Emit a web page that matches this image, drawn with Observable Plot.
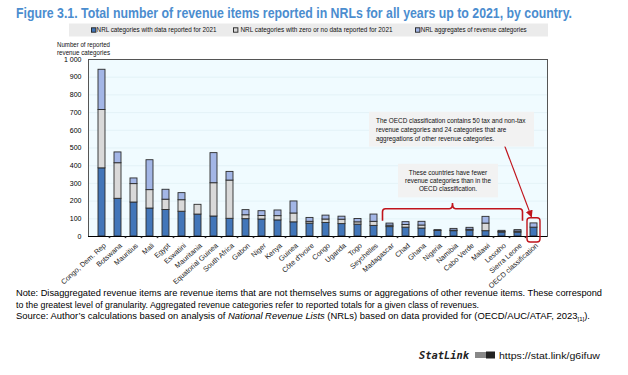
<!DOCTYPE html>
<html>
<head>
<meta charset="utf-8">
<script src="https://cdn.jsdelivr.net/npm/d3@7"></script>
<script src="https://cdn.jsdelivr.net/npm/@observablehq/plot@0.6"></script>
<style>
  html, body { margin: 0; padding: 0; background: #fff; }
  #page { position: relative; width: 628px; height: 375px; overflow: hidden; font-family: "Liberation Sans", Arial, sans-serif; }
  #chart { position: absolute; left: 0; top: 40px; }
  #overlay { position: absolute; left: 0; top: 0; pointer-events: none; }
  #title { position: absolute; left: 16px; top: 4px; white-space: nowrap; font-weight: bold; font-size: 15px; line-height: 18px; color: #4b8dcf; transform-origin: 0 0; }
</style>
</head>
<body>
<div id="page">
  <div id="chart"></div>
  <svg id="overlay" width="628" height="375"></svg>
  <div id="title"></div>
</div>
<script>
// ---------- DATA ----------
const countries = ["Congo, Dem. Rep", "Botswana", "Mauritius", "Mali", "Egypt", "Eswatini", "Mauritania",
  "Equatorial Guinea", "South Africa", "Gabon", "Niger", "Kenya", "Guinea", "Côte d'Ivoire", "Congo",
  "Uganda", "Togo", "Seychelles", "Madagascar", "Chad", "Ghana", "Nigeria", "Namibia", "Cabo Verde",
  "Malawi", "Lesotho", "Sierra Leone", "OECD classification"];
const withData   = [385, 213, 192, 158, 150, 140, 124, 113, 100, 98, 96, 91, 80, 73, 76, 70, 67, 60, 53, 50, 45, 31, 30, 33, 30, 22, 22, 50];
const zeroNoData = [330, 201, 104, 104, 58, 65, 55, 188, 216, 22, 20, 24, 50, 10, 20, 25, 13, 23, 8, 15, 17, 0, 3, 5, 43, 3, 6, 0];
const aggregates = [227, 61, 32, 169, 56, 40, 0, 170, 49, 29, 27, 32, 68, 22, 22, 17, 19, 41, 12, 16, 21, 5, 10, 11, 38, 7, 8, 24];
const seriesNames = ["NRL categories with data reported for 2021",
  "NRL categories with zero or no data reported for 2021",
  "NRL aggregates of revenue categories"];
const seriesColors = ["#4276b9", "#d9d9d9", "#a3b6e6"];
const yTicks = [0, 100, 200, 300, 400, 500, 600, 700, 800, 900, 1000];

const titleText = "Figure 3.1. Total number of revenue items reported in NRLs for all years up to 2021, by country.";
const yLabel = ["Number of reported", "revenue categories"];
const note1 = ["The OECD classification contains 50 tax and non-tax", "revenue categories and 24 categories that are", "aggregations of other revenue categories."];
const note2 = ["These countries have fewer", "revenue categories than in the", "OECD classification."];

// ---------- TABLE ----------
const rows = [];
countries.forEach((c, i) => {
  [withData, zeroNoData, aggregates].forEach((arr, k) => {
    rows.push({country: c, series: seriesNames[k], value: arr[i]});
  });
});

const fmt = d => d >= 1000 ? d3.format(",")(d).replace(",", " ") : String(d);

const chart = Plot.plot({
  width: 628,
  height: 250,
  marginTop: 19,
  marginBottom: 54,
  marginLeft: 88,
  marginRight: 81,
  style: {background: "transparent", fontFamily: "'Liberation Sans', Arial, sans-serif", fontSize: "7px", color: "#000"},
  x: {domain: countries, padding: 0.55, label: null},
  y: {domain: [0, 1000], label: null},
  color: {domain: seriesNames, range: seriesColors},
  marks: [
    Plot.frame({fill: "#f0fbff", stroke: "none"}),
    Plot.gridY(yTicks, {stroke: "#dcecf2", strokeOpacity: 1, strokeWidth: 0.6}),
    Plot.barY(rows, Plot.stackY({x: "country", y: "value", fill: "series", stroke: "#2b2b2b", strokeWidth: 0.9})),
    Plot.frame({stroke: "#555", strokeWidth: 1}),
    Plot.ruleY([0], {stroke: "#000", strokeWidth: 1.2}),
    Plot.axisY(yTicks, {tickSize: 0, tickPadding: 7, tickFormat: fmt, fontSize: 7}),
    Plot.axisX({tickSize: 0, tickRotate: -42, tickPadding: 8, dx: 3, fontSize: 7.2, fill: "#222"})
  ]
});
document.getElementById("chart").appendChild(chart);

// ---------- ANNOTATIONS inside the chart ----------
const xs = chart.scale("x"), ys = chart.scale("y");
const bw = xs.bandwidth;
const step = xs.apply(countries[1]) - xs.apply(countries[0]);
const gap = step - bw;
const g = d3.select(chart).append("g");
// small tick marks at band boundaries
for (let i = 1; i < countries.length; i++) {
  const bx = xs.apply(countries[i]) - gap / 2;
  g.append("rect").attr("x", bx - 0.8).attr("y", ys.apply(0) + 0.5).attr("width", 1.6).attr("height", 1.6).attr("fill", "#333");
}
const red = "#c0141c";
// bracket over the countries with fewer categories
const bL = xs.apply("Madagascar") - gap / 2 + 1, bR = xs.apply("Sierra Leone") + bw + gap / 2 - 3;
const bY = ys.apply(154), bEnd = ys.apply(86), bC = (bL + bR) / 2, bTop = ys.apply(186);
g.append("path")
  .attr("d", `M${bL},${bEnd} V${bY + 3} Q${bL},${bY} ${bL + 3},${bY} H${bC - 3} Q${bC},${bY} ${bC},${bTop} Q${bC},${bY} ${bC + 3},${bY} H${bR - 3} Q${bR},${bY} ${bR},${bY + 3} V${bEnd}`)
  .attr("fill", "none").attr("stroke", red).attr("stroke-width", 1.6);
// highlight box around OECD bar
const oX = xs.apply("OECD classification");
g.append("rect").attr("x", oX - gap / 2 + 1.5).attr("y", ys.apply(103)).attr("width", step - 3).attr("height", ys.apply(0) - ys.apply(103) + 6)
  .attr("rx", 3).attr("fill", "none").attr("stroke", red).attr("stroke-width", 1.4);
// arrow
const defs = d3.select(chart).append("defs");
defs.append("marker").attr("id", "arr").attr("viewBox", "0 0 10 10").attr("refX", 9).attr("refY", 5)
  .attr("markerWidth", 6).attr("markerHeight", 6).attr("orient", "auto")
  .append("path").attr("d", "M0,0 L10,5 L0,10 z").attr("fill", red);
g.append("line")
  .attr("x1", xs.apply("Lesotho") + bw / 2 + 2).attr("y1", ys.apply(527))
  .attr("x2", oX + bw / 2 - 2).attr("y2", ys.apply(108))
  .attr("stroke", red).attr("stroke-width", 1.2).attr("marker-end", "url(#arr)");
// text box 1
const b1x = xs.apply("Seychelles") - 1, b1r = oX + bw - 3;
g.append("rect").attr("x", b1x).attr("y", ys.apply(702)).attr("width", b1r - b1x).attr("height", ys.apply(505) - ys.apply(702)).attr("fill", "#f2f2f2");
note1.forEach((t, i) => {
  g.append("text").attr("x", b1x + 7).attr("y", ys.apply(702) + 11.5 + i * 8.7)
    .attr("text-anchor", "start").attr("font-size", 6.4).attr("fill", "#111").text(t);
});
// text box 2
const b2x = xs.apply("Madagascar") + 12, b2r = xs.apply("Malawi") + 16;
g.append("rect").attr("x", b2x).attr("y", ys.apply(408)).attr("width", b2r - b2x).attr("height", ys.apply(218) - ys.apply(408)).attr("fill", "#f2f2f2");
note2.forEach((t, i) => {
  g.append("text").attr("x", (b2x + b2r) / 2).attr("y", ys.apply(408) + 10.8 + i * 8.3)
    .attr("text-anchor", "middle").attr("font-size", 6.4).attr("fill", "#111").text(t);
});

// ---------- TITLE (HTML, horizontally condensed to fit) ----------
const titleEl = document.getElementById("title");
titleEl.textContent = titleText;
const natW = titleEl.getBoundingClientRect().width;
titleEl.style.transform = `scaleX(${556 / natW})`;

// ---------- OVERLAY: legend, y label, notes ----------
const ov = d3.select("#overlay");
ov.append("rect").attr("x", 69).attr("y", 23.5).attr("width", 479).attr("height", 13).attr("fill", "#ebebeb");
const legSq = [91.5, 233.5, 415.5], legTx = [96.6, 240.5, 420.7], legW = [120, 152, 106];
seriesNames.forEach((s, i) => {
  ov.append("rect").attr("x", legSq[i]).attr("y", 27.8).attr("width", 4.4).attr("height", 4.4)
    .attr("fill", seriesColors[i]).attr("stroke", "#222").attr("stroke-width", 0.9);
  ov.append("text").attr("x", legTx[i]).attr("y", 32.3).attr("font-size", 6.4).attr("fill", "#111")
    .attr("textLength", legW[i]).attr("lengthAdjust", "spacingAndGlyphs").text(s);
});
yLabel.forEach((t, i) => {
  ov.append("text").attr("x", 57).attr("y", 46.5 + i * 8.3).attr("font-size", 6.4).attr("fill", "#111")
    .attr("textLength", 53).attr("lengthAdjust", "spacingAndGlyphs").text(t);
});
// notes
ov.append("text").attr("x", 16).attr("y", 296).attr("font-size", 9.3).attr("fill", "#000")
  .attr("textLength", 586).attr("lengthAdjust", "spacingAndGlyphs")
  .text("Note: Disaggregated revenue items are revenue items that are not themselves sums or aggregations of other revenue items. These correspond");
ov.append("text").attr("x", 16).attr("y", 307.6).attr("font-size", 9.3).attr("fill", "#000")
  .attr("textLength", 463).attr("lengthAdjust", "spacingAndGlyphs")
  .text("to the greatest level of granularity. Aggregated revenue categories refer to reported totals for a given class of revenues.");
const n3 = ov.append("text").attr("x", 16).attr("y", 319.2).attr("font-size", 9.3).attr("fill", "#000")
  .attr("textLength", 574).attr("lengthAdjust", "spacingAndGlyphs");
n3.append("tspan").text("Source: Author’s calculations based on analysis of ");
n3.append("tspan").attr("font-style", "italic").text("National Revenue Lists");
n3.append("tspan").text(" (NRLs) based on data provided for (OECD/AUC/ATAF, 2023");
n3.append("tspan").attr("font-size", 6).attr("dy", 2).text("[1]");
n3.append("tspan").attr("dy", -2).text(").");
// StatLink
ov.append("text").attr("x", 419).attr("y", 358.5).attr("font-size", 10).attr("font-weight", "bold").attr("font-style", "italic")
  .attr("font-family", "'DejaVu Sans Mono', monospace").attr("fill", "#222").attr("textLength", 50).attr("lengthAdjust", "spacingAndGlyphs").text("StatLink");
ov.append("rect").attr("x", 475).attr("y", 352).attr("width", 11).attr("height", 6).attr("fill", "#888");
ov.append("rect").attr("x", 486).attr("y", 351.5).attr("width", 9).attr("height", 7).attr("fill", "#222");
ov.append("text").attr("x", 499).attr("y", 358.5).attr("font-size", 9.3).attr("fill", "#111")
  .attr("textLength", 101).attr("lengthAdjust", "spacingAndGlyphs").text("https://stat.link/g6ifuw");
</script>
</body>
</html>
